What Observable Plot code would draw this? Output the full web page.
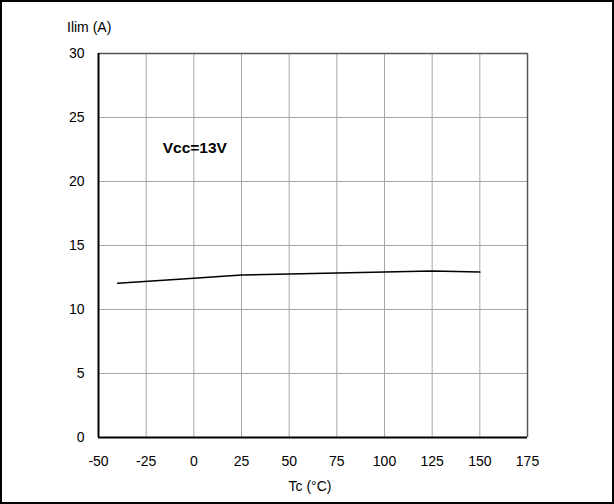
<!DOCTYPE html>
<html>
<head>
<meta charset="utf-8">
<script src="https://cdn.jsdelivr.net/npm/d3@7"></script>
<script src="https://cdn.jsdelivr.net/npm/@observablehq/plot@0.6"></script>
<style>
  body { margin: 0; background: #fff; }
  #chart { position: relative; width: 614px; height: 504px; }
  #chart::after { content: ""; position: absolute; left: 0; top: 0; right: 0; bottom: 0; border: 2px solid #000; pointer-events: none; }
  svg { display: block; font-family: "Liberation Sans", Arial, sans-serif; }
</style>
</head>
<body>
<div id="chart"></div>
<script>
const tempC = [-40, 0, 25, 50, 75, 100, 125, 150];
const ilimA = [12.05, 12.45, 12.7, 12.77, 12.85, 12.92, 13.0, 12.92];
const xTicks = [-50, -25, 0, 25, 50, 75, 100, 125, 150, 175];
const yTicks = [0, 5, 10, 15, 20, 25, 30];
const annotation = [{x: 0.5, y: 22.6, text: "Vcc=13V"}];
const xLabel = "Tc (°C)";
const yLabel = "Ilim (A)";

const data = tempC.map((t, i) => ({t, v: ilimA[i]}));
const fmt = d => String(d);

const plot = Plot.plot({
  width: 614,
  height: 504,
  marginLeft: 98,
  marginRight: 87,
  marginTop: 53,
  marginBottom: 67,
  style: {fontFamily: "Liberation Sans, Arial, sans-serif", fontSize: "14px", color: "#000", background: "#fff"},
  x: {domain: [-50, 175], ticks: xTicks, label: null},
  y: {domain: [0, 30], ticks: yTicks, label: null},
  marks: [
    Plot.ruleX(xTicks.slice(1, -1), {stroke: "#a6a6a6", strokeWidth: 1, strokeOpacity: 1}),
    Plot.ruleY(yTicks.slice(1, -1), {stroke: "#a6a6a6", strokeWidth: 1, strokeOpacity: 1}),
    Plot.ruleX([175], {stroke: "#555", strokeWidth: 1.5}),
    Plot.ruleY([30], {stroke: "#555", strokeWidth: 1.5}),
    Plot.ruleX([-50], {stroke: "#000", strokeWidth: 2}),
    Plot.ruleY([0], {stroke: "#000", strokeWidth: 2.2}),
    Plot.axisX({ticks: xTicks, tickSize: 0, tickPadding: 19, label: null, fontSize: 14, tickFormat: fmt}),
    Plot.axisY({ticks: yTicks, tickSize: 0, tickPadding: 14, label: null, fontSize: 14, tickFormat: fmt}),
    Plot.line(data, {x: "t", y: "v", stroke: "#000", strokeWidth: 1.5}),
    Plot.text(annotation, {x: "x", y: "y", text: "text", fontWeight: "bold", fontSize: 15.5, fill: "#000"})
  ]
});

const svg = d3.select(plot);
svg.append("text")
  .attr("x", 310).attr("y", 491)
  .attr("text-anchor", "middle")
  .attr("font-size", 14)
  .attr("fill", "#000")
  .text(xLabel);
svg.append("text")
  .attr("x", 67).attr("y", 32)
  .attr("text-anchor", "start")
  .attr("font-size", 14)
  .attr("fill", "#000")
  .text(yLabel);

document.getElementById("chart").appendChild(plot);
</script>
</body>
</html>
